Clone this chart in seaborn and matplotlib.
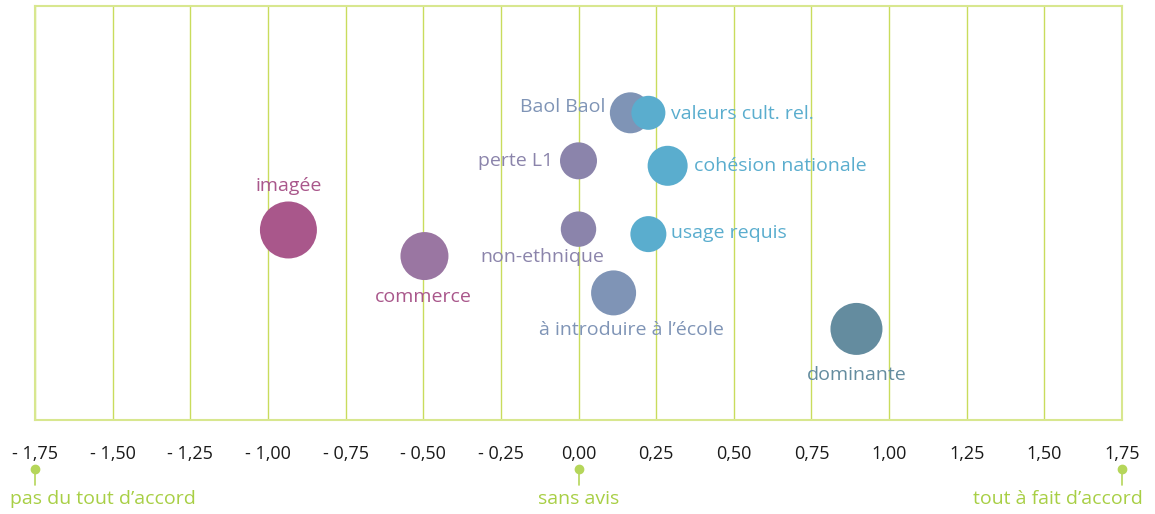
import pandas as pd
import matplotlib.pyplot as plt
import seaborn as sns

# Data
labels = ["imagée", "commerce", "perte L1", "non-ethnique", "Baol Baol",
          "valeurs cult. rel.", "cohésion nationale", "usage requis",
          "à introduire à l’école", "dominante"]
score = [-0.934, -0.496, 0.0, 0.0, 0.167, 0.225, 0.287, 0.225, 0.113, 0.895]
position = [45.9, 39.6, 62.6, 46.1, 74.2, 74.2, 61.4, 44.9, 30.7, 22.0]
area = [1684, 1194, 710, 650, 871, 600, 830, 672, 1050, 1402]
tick_values = [-1.75, -1.5, -1.25, -1.0, -0.75, -0.5, -0.25, 0, 0.25, 0.5, 0.75, 1.0, 1.25, 1.5, 1.75]
scale_labels = ["pas du tout d’accord", "sans avis", "tout à fait d’accord"]
scale_values = [-1.75, 0.0, 1.75]

bubble_colors = ["#a9578b", "#9a76a2", "#8b84ab", "#8b84ab", "#7f94b6",
                 "#5aadce", "#5aadce", "#5aadce", "#7f94b6", "#648c9f"]
text_colors = ["#a9578b", "#a9578b", "#8b84ab", "#8b84ab", "#7f94b6",
               "#5aadce", "#5aadce", "#5aadce", "#7f94b6", "#648c9f"]
# label offsets (points) and alignment
offsets = [(0, 32, "center"), (-1, -29.5, "center"), (-18, 0, "right"),
           (-26, -20, "center"), (-18, 4, "right"), (16, -1, "left"),
           (19, 0, "left"), (16.5, 1, "left"), (13, -26.6, "center"),
           (0, -33, "center")]

df = pd.DataFrame({"label": labels, "score": score, "position": position})

sns.set_style("white")
plt.rcParams["font.family"] = ["Open Sans", "DejaVu Sans"]
green = "#c9dc5c"
label_size = 14

fig = plt.figure(figsize=(11.55, 5.14), dpi=100)
ax = fig.add_axes([35 / 1155, 94 / 514, 1087 / 1155, 414 / 514])

sns.scatterplot(data=df, x="score", y="position", hue="label", size="label",
                palette=dict(zip(labels, bubble_colors)),
                sizes=dict(zip(labels, area)), linewidth=0, alpha=1,
                legend=False, ax=ax, zorder=3)

for lab, x, y, col, (dx, dy, ha) in zip(labels, score, position, text_colors, offsets):
    ax.annotate(lab, (x, y), xytext=(dx, dy), textcoords="offset points",
                ha=ha, va="center", color=col, fontsize=label_size, zorder=4)

ax.set_xlim(-1.75, 1.75)
ax.set_ylim(0, 100)
ax.set_xticks(tick_values)
ax.set_xticklabels([("- " if v < 0 else "") + f"{abs(v):.2f}".replace(".", ",") for v in tick_values],
                   fontsize=13, color="#1a1a1a")
ax.tick_params(axis="x", length=0, pad=18)
ax.set_yticks([])
ax.set_xlabel("")
ax.set_ylabel("")
for v in tick_values:
    ax.axvline(v, color=green, lw=1, zorder=1)
for s in ax.spines.values():
    s.set_color("#d8e78f")
    s.set_linewidth(1.5)

# scale markers under the axis
trans = ax.get_xaxis_transform()
for v in scale_values:
    ax.plot([v, v], [-0.118, -0.158], color="#b5d65a", lw=1.2, transform=trans, clip_on=False)
    ax.plot([v], [-0.118], "o", color="#b5d65a", ms=6, transform=trans, clip_on=False)
ax.text(-1.829, -0.19, scale_labels[0], ha="left", va="center", color="#a8cf45",
        fontsize=label_size, transform=trans)
ax.text(0.0, -0.19, scale_labels[1], ha="center", va="center", color="#a8cf45",
        fontsize=label_size, transform=trans)
ax.text(1.816, -0.19, scale_labels[2], ha="right", va="center", color="#a8cf45",
        fontsize=label_size, transform=trans)

plt.savefig("out.png", dpi=100)
